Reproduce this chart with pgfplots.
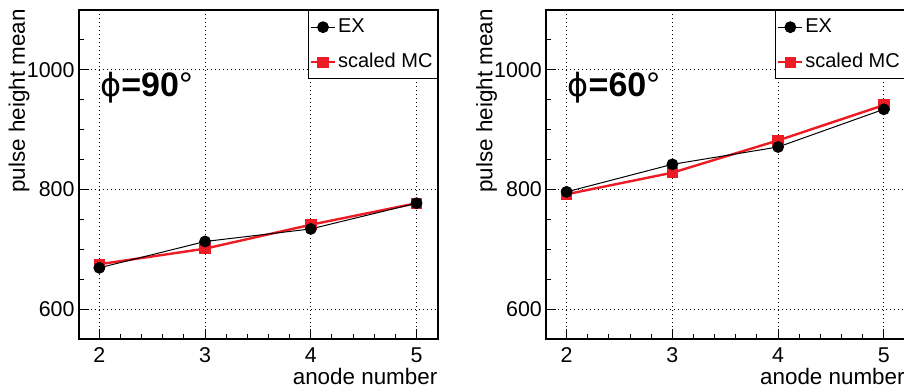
\documentclass[border=0pt]{standalone}
\usepackage{pgfplots}
\pgfplotsset{compat=1.18}
\usepackage{fontspec}
\setmainfont{Liberation Sans}
\newfontfamily\dejavu{DejaVu Sans}
\definecolor{mcred}{RGB}{237,28,36}

\pgfplotsset{
  rootstyle/.style={
    scale only axis, width=179.5pt, height=164.5pt,
    xmin=1.805, xmax=5.2, ymin=550, ymax=1100,
    xtick={2,3,4,5}, ytick={600,800,1000},
    minor xtick={2.2,2.4,2.6,2.8,3.2,3.4,3.6,3.8,4.2,4.4,4.6,4.8},
    minor ytick={650,700,750,850,900,950,1050},
    tick align=inside, xtick pos=bottom, ytick pos=left,
    major tick length=5pt, minor tick length=2.7pt,
    tick style={black, line width=0.5pt},
    axis line style={line width=0.9pt},
    grid=major, major grid style={black, line width=0.55pt, dash pattern=on 0.7pt off 1.3pt},
    /pgf/number format/assume math mode=true,
    /pgf/number format/1000 sep={},
    ticklabel style={font=\fontsize{10.7}{12}\selectfont},
    yticklabel style={inner sep=0pt, xshift=-1.9pt, anchor=east},
    xticklabel style={inner sep=0pt, yshift=-4pt, anchor=north},
    label style={font=\fontsize{11.2}{13}\selectfont},
    xlabel={anode number},
    xlabel style={at={(1,-0.1398)}, anchor=base east, inner sep=0pt},
    ylabel={pulse height mean},
    ylabel style={at={(-0.1496,1.003)}, anchor=base east, inner sep=0pt},
    reverse legend,
    legend style={at={(1,1)}, anchor=north east, draw=black, line width=0.6pt, fill=white,
      font=\fontsize{10}{12}\selectfont, inner xsep=1.3pt, inner ysep=2.3pt,
      row sep=5.5pt, column sep=0.5pt,
      nodes={inner sep=1pt, text height=7.5pt, text depth=2.5pt}, cells={anchor=west}},
    legend image code/.code={\path[draw=none, fill=none, use as bounding box] (0pt,-5pt) rectangle (12pt,5pt);
      \draw[mark repeat=2,mark phase=2,#1] plot coordinates {(0pt,0pt) (6pt,0pt) (12pt,0pt)};},
  },
  exstyle/.style={black, line width=0.5pt, mark=*, mark size=2.7pt, mark options={solid, fill=black}},
  mcstyle/.style={mcred, line width=1.2pt, mark=square*, mark size=2.6pt, mark options={solid, fill=mcred, line width=0.5pt}},
}

\begin{document}
\begin{tikzpicture}
\begin{axis}[rootstyle, at={(39.35pt,26pt)}, anchor=south west]
  \addplot[mcstyle] coordinates {(2,675) (3,701) (4,741) (5,777)};
  \addlegendentry{scaled MC}
  \addplot[exstyle] coordinates {(2,669) (3,713) (4,734) (5,777)};
  \addlegendentry{EX}
  \node[anchor=base west, inner sep=0pt, font=\bfseries\fontsize{17}{20}\selectfont] at (rel axis cs:0.059,0.7365) {{\dejavu\mdseries\fontsize{16}{20}\selectfont ϕ}=90{\mdseries °}};
\end{axis}
\begin{axis}[rootstyle, at={(273pt,26pt)}, anchor=south west]
  \addplot[mcstyle] coordinates {(2,792) (3,828) (4,882) (5,941)};
  \addlegendentry{scaled MC}
  \addplot[exstyle] coordinates {(2,796) (3,842) (4,871) (5,934)};
  \addlegendentry{EX}
  \node[anchor=base west, inner sep=0pt, font=\bfseries\fontsize{17}{20}\selectfont] at (rel axis cs:0.059,0.7365) {{\dejavu\mdseries\fontsize{16}{20}\selectfont ϕ}=60{\mdseries °}};
\end{axis}
\pgfresetboundingbox
\path[use as bounding box] (0,0) rectangle (452pt,195.5pt);
\end{tikzpicture}
\end{document}
